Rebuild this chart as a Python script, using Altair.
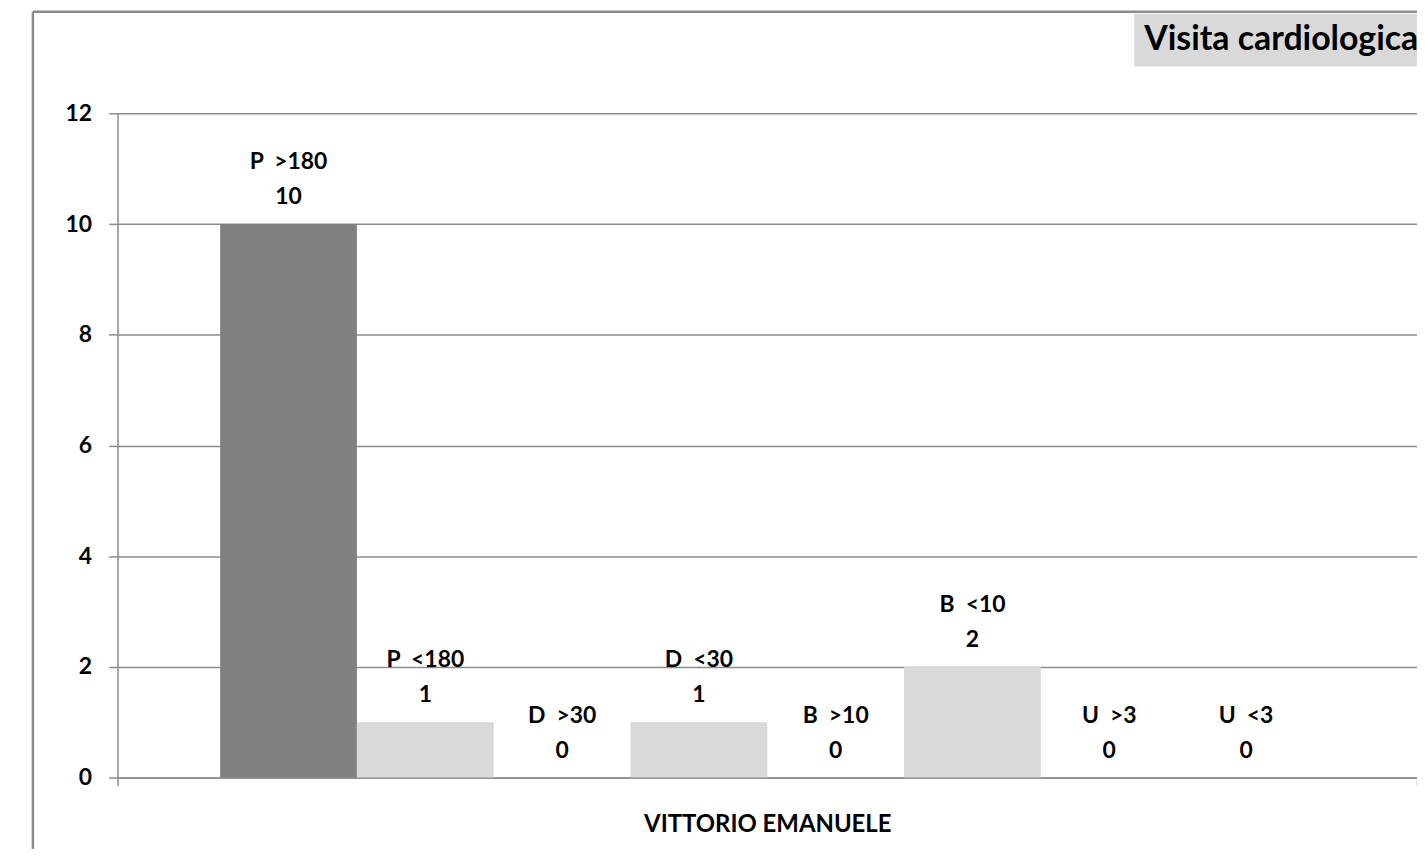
import altair as alt
import pandas as pd

category = "VITTORIO EMANUELE"
series = ["P >180", "P <180", "D >30", "D <30", "B >10", "B <10", "U >3", "U <3"]
values = [10, 1, 0, 1, 0, 2, 0, 0]
bar_colors = ["#808080", "#d9d9d9", "#d9d9d9", "#d9d9d9", "#d9d9d9", "#d9d9d9", "#d9d9d9", "#d9d9d9"]
y_ticks = [0, 2, 4, 6, 8, 10, 12]
title_text = "Visita cardiologica"

FONT = "Lato"
GRAY = "#8c8c8c"
W, H = 1305, 667

df = pd.DataFrame({
    "cat": [category] * len(series),
    "series": series,
    "value": values,
    "name": [s.replace(" ", "\u00a0\u00a0") for s in series],
})

x = alt.X("cat:N", title=None,
          scale=alt.Scale(paddingInner=0, paddingOuter=0),
          axis=alt.Axis(labelFont=FONT, labelFontSize=24, labelFontWeight="bold",
                        labelColor="black", labelPadding=27, labelLimit=0, tickSize=8,
                        tickColor=GRAY, tickWidth=1.5, domainColor=GRAY, domainWidth=1.5,
                        tickBand="extent", labelAngle=0))
xo = alt.XOffset("series:N", sort=series,
                 scale=alt.Scale(paddingInner=0, paddingOuter=0.75))
y = alt.Y("value:Q", title=None,
          scale=alt.Scale(domain=[0, 12], nice=False),
          axis=alt.Axis(values=y_ticks, format="d", labelFont=FONT, labelFontSize=23,
                        labelFontWeight="bold", labelColor="black", labelPadding=17,
                        tickSize=9, tickColor=GRAY, tickWidth=1.5, domainColor=GRAY,
                        domainWidth=1.5, gridColor=GRAY, gridWidth=1.5))

base = alt.Chart(df)

bars = base.mark_bar(stroke=None).encode(
    x=x, xOffset=xo, y=y,
    color=alt.Color("series:N", sort=series,
                    scale=alt.Scale(domain=series, range=bar_colors), legend=None),
)

lbl_val = base.mark_text(font=FONT, fontSize=23, fontWeight="bold", color="black",
                         baseline="middle", dy=-27).encode(
    x=alt.X("cat:N"), xOffset=xo, y=alt.Y("value:Q"), text="value:Q")
lbl_name = base.mark_text(font=FONT, fontSize=23, fontWeight="bold", color="black",
                          baseline="middle", dy=-62).encode(
    x=alt.X("cat:N"), xOffset=xo, y=alt.Y("value:Q"), text="name:N")

one = alt.Chart(pd.DataFrame({"t": [title_text]}))

frame_left = one.mark_rule(color=GRAY, strokeWidth=2.5).encode(
    x=alt.value(-85), y=alt.value(-102), y2=alt.value(H + 120))
frame_top = one.mark_rule(color=GRAY, strokeWidth=2.5).encode(
    x=alt.value(-85), x2=alt.value(W + 40), y=alt.value(-102))

title_box = one.mark_rect(color="#d9d9d9").encode(
    x=alt.value(1021), x2=alt.value(W + 40), y=alt.value(-100), y2=alt.value(-47))
title_lbl = one.mark_text(font=FONT, fontSize=34, fontWeight="bold", color="black",
                          align="left", baseline="middle").encode(
    x=alt.value(1031), y=alt.value(-74), text="t:N")

chart = alt.layer(frame_left, frame_top, bars, lbl_val, lbl_name, title_box, title_lbl).properties(
    width=W, height=H,
    autosize=alt.AutoSizeParams(type="none"),
    padding={"left": 110, "top": 104, "right": 0, "bottom": 70},
    background="white",
).configure_view(stroke=None)

chart.save("out.html", embed_options={"renderer": "svg", "actions": False})
